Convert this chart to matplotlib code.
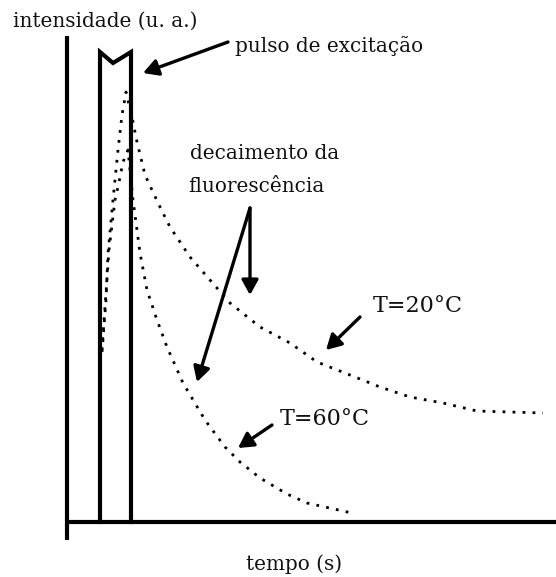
import matplotlib
matplotlib.use('Agg')
import matplotlib.pyplot as plt

# time / intensity in arbitrary units (u. a.)
T_MAX = 489
I_MAX = 486

# excitation pulse outline (with the notch on top)
pulse_t = [33, 33, 46, 64, 64]
pulse_i = [0, 470, 459, 470, 0]

# fluorescence at T=20°C: rise inside the pulse, then slow decay
t20 = [35, 39, 41, 46, 51, 55, 59, 66, 70, 78, 85, 93, 103, 115, 123, 143,
       163, 193, 223, 250, 283, 313, 343, 376, 410, 476]
i20 = [170, 222, 269, 322, 372, 407, 430, 400, 380, 347, 332, 315, 295, 277,
       265, 242, 219, 195, 179, 160, 147, 135, 125, 119, 111, 109]

# fluorescence at T=60°C: faster decay
t60 = [35, 42, 48, 51, 56, 61, 66, 70, 73, 80, 90, 100, 116, 138, 158, 173,
       193, 220, 240, 285]
i60 = [172, 272, 322, 335, 360, 372, 322, 292, 269, 232, 202, 175, 139, 102,
       75, 60, 44, 28, 19, 9]

# annotations: text and position, arrows as (tail, tip)
labels = {
    'pulso de excitação': (168, 470),
    'decaimento da': (123, 363),
    'fluorescência': (121, 330),
}
temp_labels = {
    'T=20°C': (306, 210),
    'T=60°C': (213, 97),
}
arrows = [
    ((161, 480), (76, 449)),
    ((183, 314), (183, 227)),
    ((183, 314), (130, 140)),
    ((293, 205), (259, 172)),
    ((205, 97), (171, 74)),
]

W, H = 556, 577
fig = plt.figure(figsize=(W / 100, H / 100), dpi=100)
ax = fig.add_axes([67 / W, 55 / H, T_MAX / W, 504 / H])
ax.set_xlim(0, T_MAX)
ax.set_ylim(0, 504)
ax.axis('off')

font = dict(family='DejaVu Serif', size=14.4, color='#111111')
big = dict(font, size=16)

# axes drawn by hand: the vertical one runs a bit below zero
ax.plot([0, 0], [-18, I_MAX], color='black', lw=3, clip_on=False,
        solid_capstyle='butt')
ax.plot([0, T_MAX], [0, 0], color='black', lw=3, clip_on=False,
        solid_capstyle='butt')

ax.plot(pulse_t, pulse_i, color='black', lw=3, solid_joinstyle='miter',
        clip_on=False)

dots = (0, (1, 2.6))
ax.plot(t20, i20, color='black', lw=2, ls=dots, clip_on=False)
ax.plot(t60, i60, color='black', lw=2, ls=dots, clip_on=False)

for tail, tip in arrows:
    ax.annotate('', xy=tip, xytext=tail,
                arrowprops=dict(arrowstyle='-|>,head_length=0.9,head_width=0.5',
                                color='black', lw=2.4, shrinkA=0, shrinkB=0))

for text, pos in labels.items():
    ax.text(pos[0], pos[1], text, ha='left', va='baseline', **font)
for text, pos in temp_labels.items():
    ax.text(pos[0], pos[1], text, ha='left', va='baseline', **big)

ax.text(-54, 495, 'intensidade (u. a.)', ha='left', va='baseline',
        clip_on=False, **font)
ax.text(227, -48, 'tempo (s)', ha='center', va='baseline', clip_on=False,
        **font)

fig.savefig('out.png', dpi=100)
